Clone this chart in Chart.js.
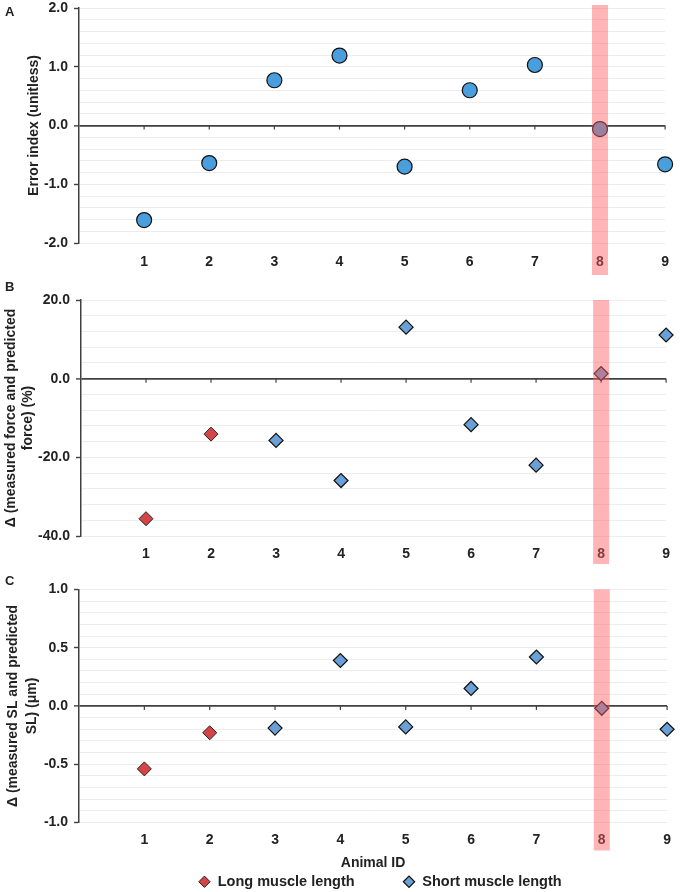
<!DOCTYPE html>
<html>
<head>
<meta charset="utf-8">
<script src="https://cdn.jsdelivr.net/npm/chart.js@4.4.0/dist/chart.umd.min.js"></script>
<style>
  html, body { margin: 0; padding: 0; background: #fff; width: 680px; height: 892px; overflow: hidden; position: relative; }
  canvas { position: absolute; left: 0; }
  .lab { position: absolute; left: 5px; font: bold 13px "Liberation Sans", Arial, sans-serif; color: #222; line-height: 16px; z-index: 2; }
</style>
</head>
<body>
<div class="lab" style="top:4px">A</div>
<div class="lab" style="top:279px">B</div>
<div class="lab" style="top:573px">C</div>
<canvas id="chartA" width="680" height="295" style="top:-10px"></canvas>
<canvas id="chartB" width="680" height="290" style="top:285px"></canvas>
<canvas id="chartC" width="680" height="324" style="top:575px"></canvas>
<script>
// ── data ──
const animalIds      = [1, 2, 3, 4, 5, 6, 7, 8, 9];
const errorIndex     = [-1.61, -0.64, 0.77, 1.19, -0.70, 0.60, 1.03, -0.06, -0.66];

const longIds        = [1, 2];
const shortIds       = [3, 4, 5, 6, 7, 8, 9];
const forceDiffLong  = [-35.6, -14.1];
const forceDiffShort = [-15.7, -25.9, 13.1, -11.7, -22.0, 1.3, 11.1];
const slDiffLong     = [-0.54, -0.23];
const slDiffShort    = [-0.19, 0.39, -0.18, 0.15, 0.42, -0.02, -0.20];

const highlightId    = 8;

const FONT  = '"Liberation Sans", Arial, sans-serif';
const TXT   = '#222';
const AXIS  = '#404040';
const GRID  = '#ededed';
const BLUE_DOT  = '#4a9edb';
const BLUE_DIA  = '#6aa0d6';
const RED_DIA   = '#d64545';

const pts = (xs, ys) => xs.map((x, i) => ({ x, y: ys[i] }));
const near = (a, b) => Math.abs(a - b) < 1e-6;

// translucent red band over one animal
function bandPlugin(topOff, bottomOff) {
  return {
    id: 'band',
    afterDraw(chart) {
      const { ctx, chartArea, scales } = chart;
      const cx = scales.x.getPixelForValue(highlightId);
      ctx.save();
      ctx.fillStyle = 'rgba(255, 90, 90, 0.45)';
      ctx.fillRect(cx - 8, chartArea.top + topOff, 16, chartArea.bottom - chartArea.top + bottomOff - topOff);
      ctx.restore();
    }
  };
}

// small tick marks on the zero line
const zeroTicks = {
  id: 'zeroTicks',
  beforeDatasetsDraw(chart) {
    const { ctx, scales } = chart;
    const y0 = scales.y.getPixelForValue(0);
    ctx.save();
    ctx.strokeStyle = AXIS;
    ctx.lineWidth = 1.2;
    animalIds.forEach(id => {
      const x = scales.x.getPixelForValue(id);
      ctx.beginPath();
      ctx.moveTo(x, y0);
      ctx.lineTo(x, y0 + 4);
      ctx.stroke();
    });
    ctx.restore();
  }
};

// nudge the legend a little to the right, as in the figure
const legendShift = {
  id: 'legendShift',
  afterLayout(chart) {
    if (chart.legend) { chart.legend.left += 7; chart.legend.right += 7; }
  }
};

function makeOptions(cfg) {
  return {
    responsive: false,
    animation: false,
    layout: { padding: { top: cfg.padTop, right: 9, left: 0, bottom: 0 } },
    plugins: {
      legend: cfg.legend || { display: false },
      tooltip: { enabled: false }
    },
    scales: {
      x: {
        type: 'linear', min: 0, max: 9,
        afterFit: s => { s.height = cfg.xHeight; },
        border: { display: false },
        grid: { display: false, drawTicks: false },
        ticks: {
          stepSize: 1, autoSkip: false, maxRotation: 0, padding: cfg.xPad,
          color: TXT, font: { family: FONT, size: 14, weight: 'bold' },
          callback: v => (v === 0 ? '' : String(v))
        },
        title: cfg.xTitle || { display: false }
      },
      y: {
        min: cfg.min, max: cfg.max,
        afterFit: s => { s.width = cfg.yWidth; },
        border: { display: true, color: AXIS, width: 1.5 },
        grid: {
          color: c => (near(c.tick.value, 0) ? AXIS : GRID),
          lineWidth: c => (near(c.tick.value, 0) ? 1.8 : 1),
          tickColor: c => (near(c.tick.value / cfg.major, Math.round(c.tick.value / cfg.major)) ? AXIS : 'rgba(0,0,0,0)'),
          tickLength: 5,
          tickWidth: 1.4
        },
        ticks: {
          stepSize: cfg.minor, autoSkip: false, padding: 6,
          color: TXT, font: { family: FONT, size: 14, weight: 'bold' },
          callback: v => (near(v / cfg.major, Math.round(v / cfg.major)) ? (Math.round(v * 10) / 10).toFixed(1) : '')
        },
        title: {
          display: true, text: cfg.yTitle, color: TXT,
          font: { family: FONT, size: 14, weight: 'bold', lineHeight: cfg.titleLH || 1.2 },
          padding: { top: cfg.titlePad, bottom: 0 }
        }
      }
    }
  };
}

// ── panel A ──
new Chart(document.getElementById('chartA'), {
  type: 'scatter',
  data: {
    datasets: [{
      label: 'Error index',
      data: pts(animalIds, errorIndex),
      pointStyle: 'circle', pointRadius: 7.5,
      backgroundColor: BLUE_DOT, borderColor: '#111', borderWidth: 1.2,
      clip: false
    }]
  },
  options: makeOptions({
    padTop: 18, xHeight: 42, xPad: 11, yWidth: 79,
    min: -2, max: 2, minor: 0.2, major: 1,
    yTitle: 'Error index (unitless)', titlePad: 26
  }),
  plugins: [zeroTicks, bandPlugin(-3, 32)]
});

// ── panels B and C share the legend style ──
const diamondSets = (longVals, shortVals) => [
  {
    label: 'Long muscle length',
    data: pts(longIds, longVals),
    pointStyle: 'rectRot', pointRadius: 7,
    backgroundColor: RED_DIA, borderColor: '#222', borderWidth: 1,
    clip: false
  },
  {
    label: 'Short muscle length',
    data: pts(shortIds, shortVals),
    pointStyle: 'rectRot', pointRadius: 7,
    backgroundColor: BLUE_DIA, borderColor: '#111', borderWidth: 1.2,
    clip: false
  }
];

new Chart(document.getElementById('chartB'), {
  type: 'scatter',
  data: { datasets: diamondSets(forceDiffLong, forceDiffShort) },
  options: makeOptions({
    padTop: 15, xHeight: 39, xPad: 10, yWidth: 81,
    min: -40, max: 20, minor: 4, major: 20,
    yTitle: ['Δ (measured force and predicted', 'force) (%)'], titlePad: 3
  }),
  plugins: [zeroTicks, bandPlugin(0, 28)]
});

new Chart(document.getElementById('chartC'), {
  type: 'scatter',
  data: { datasets: diamondSets(slDiffLong, slDiffShort) },
  options: makeOptions({
    padTop: 13, xHeight: 52, xPad: 9, yWidth: 79,
    min: -1, max: 1, minor: 0.1, major: 0.5,
    yTitle: ['Δ (measured SL and predicted', 'SL) (μm)'], titlePad: 4, titleLH: 1.35,
    xTitle: {
      display: true, text: 'Animal ID', color: TXT,
      font: { family: FONT, size: 14, weight: 'bold' },
      padding: { top: 0, bottom: 3 }
    },
    legend: {
      display: true, position: 'bottom', fullSize: false,
      labels: {
        usePointStyle: true, boxWidth: 12, boxHeight: 8, padding: 0,
        color: TXT, font: { family: FONT, size: 14.5, weight: 'bold' },
        generateLabels: chart => {
          const items = Chart.defaults.plugins.legend.labels.generateLabels(chart);
          items[0].text = items[0].text + '            ';
          return items;
        }
      }
    }
  }),
  plugins: [zeroTicks, bandPlugin(0, 28), legendShift]
});
</script>
</body>
</html>
